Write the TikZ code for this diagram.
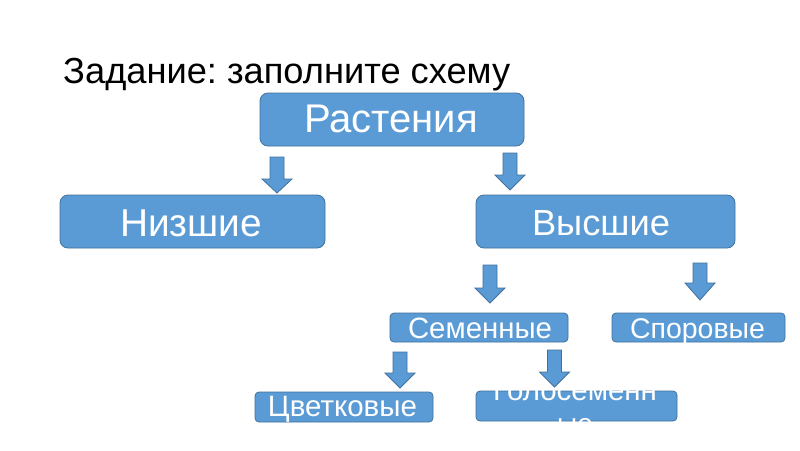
\documentclass[tikz,border=0pt]{standalone}
\usepackage{graphicx}
\usepackage{fontspec}
\setmainfont{Liberation Sans}
\frenchspacing
\definecolor{boxblue}{HTML}{5B9BD5}
\definecolor{boxedge}{HTML}{41719C}
\newcommand{\blockarr}[5]{% name, cx, top, headstart, tip
  \draw[arrowshape] (#2-7,#3) -- (#2+7,#3) -- (#2+7,#4) -- (#2+15,#4) -- (#2,#5) -- (#2-15,#4) -- (#2-7,#4) -- cycle;
  \coordinate (#1) at (#2,#5);
}
% text fitted to a width, uniform scaling
\newcommand{\fitw}[2]{\resizebox{#1pt}{!}{#2}}
\begin{document}
\begin{tikzpicture}[x=1pt,y=-1pt,
  bigbox/.style={draw=boxedge, line width=0.8pt, fill=boxblue, rounded corners=8pt, inner sep=0pt},
  smallbox/.style={draw=boxedge, line width=0.8pt, fill=boxblue, rounded corners=4pt, inner sep=0pt},
  arrowshape/.style={draw=boxedge, line width=0.8pt, fill=boxblue, line join=miter},
  lbl/.style={text=white, inner sep=0pt, anchor=base},
  bigfont/.style={font=\fontsize{38}{44}\selectfont},
  smallfont/.style={font=\fontsize{28}{32}\selectfont}
]
\useasboundingbox (0,0) rectangle (800,450);
\fill[white] (0,0) rectangle (800,450);

\node[anchor=base west, inner sep=0pt, font=\fontsize{36}{42}\selectfont] (title) at (63,83)
  {\fitw{447}{Задание: заполните схему}};

\node[bigbox, minimum width=264pt, minimum height=53pt] (plants) at (392,119.5) {};
\node[bigbox, minimum width=265pt, minimum height=53pt] (lower) at (192.5,221.5) {};
\node[bigbox, minimum width=259pt, minimum height=53pt] (higher) at (605.5,221.5) {};
\node[smallbox, minimum width=178pt, minimum height=29pt] (seed) at (479,327.5) {};
\node[smallbox, minimum width=173pt, minimum height=29pt] (spore) at (698.5,327.5) {};
\node[smallbox, minimum width=178pt, minimum height=30pt] (flower) at (344,407) {};
\node[smallbox, minimum width=201pt, minimum height=30pt] (gymno) at (576.5,406) {};

\node[lbl, bigfont] (plantsT) at (391,132) {\fitw{174}{Растения}};
\node[lbl, bigfont] (lowerT) at (191,236) {\fitw{142}{Низшие}};
\node[lbl, bigfont] (higherT) at (601,235) {\fitw{138}{Высшие}};
\node[lbl, smallfont] (seedT) at (480,338) {\fitw{144}{Семенные}};
\node[lbl, smallfont] (sporeT) at (697.5,338) {\fitw{135}{Споровые}};
\node[lbl, smallfont] (flowerT) at (342.5,416.7) {\fitw{149}{Цветковые}};
\node[lbl, smallfont] (gymnoA) at (575,400) {\fitw{164}{Голосеменн}};
\node[lbl, font=\fontsize{28}{32}\selectfont] (gymnoB) at (575,433) {ые};

\blockarr{a1}{277}{157}{179}{193}
\blockarr{a2}{510}{153}{175}{190}
\blockarr{a3}{490}{265}{288}{303}
\blockarr{a4}{700}{263}{283}{300}
\blockarr{a5}{400}{352}{373}{388}
\blockarr{a6}{554.5}{350}{372}{387}
\end{tikzpicture}
\end{document}
